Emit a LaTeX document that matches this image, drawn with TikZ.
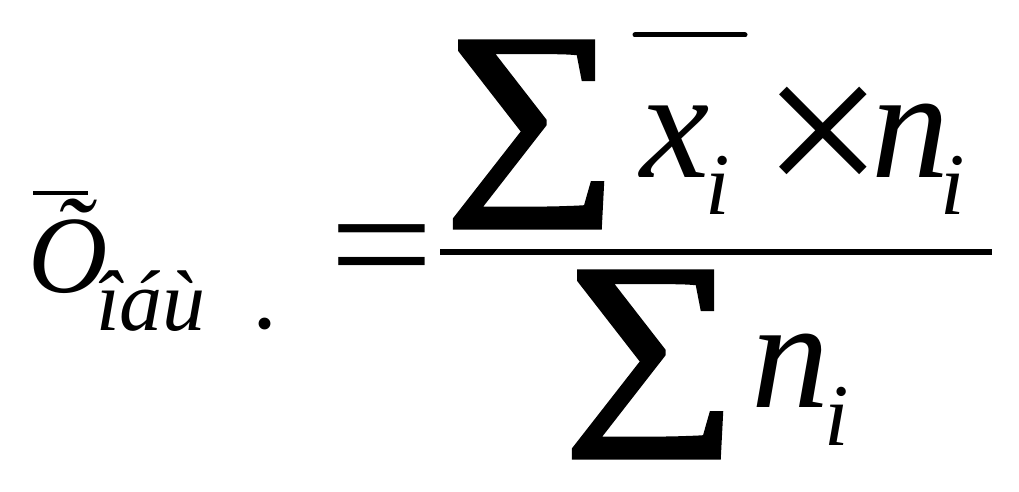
\documentclass[tikz,border=0pt]{standalone}
\usepackage{fontspec}
\setmainfont{Liberation Serif}
\newfontface\sumface[FakeBold=2.5]{Liberation Serif}
\usepackage{graphicx}
\tikzset{
  txt/.style={inner sep=0pt, outer sep=0pt},
  bigit/.style={txt, font=\fontsize{156}{160}\selectfont\itshape},
  bigup/.style={txt, font=\fontsize{156}{160}\selectfont},
  subit/.style={txt, font=\fontsize{88}{90}\selectfont\itshape},
  lsub/.style={txt, font=\fontsize{86}{90}\selectfont\itshape},
  midit/.style={txt, font=\fontsize{110}{112}\selectfont\itshape},
  dotst/.style={txt, font=\fontsize{100}{104}\selectfont},
  sumst/.style={txt, font=\fontsize{156}{160}\sumface},
  rule/.style={line width=6pt},
  vbar/.style={line width=5pt, line cap=round},
}
\begin{document}
\begin{tikzpicture}[x=1pt,y=1pt]
\useasboundingbox (0,0) rectangle (1019,491);
% left side
\node[midit, anchor=base west] (o) at (28,199) {Õ};
\draw[line width=4pt] (33,298) -- (88,298);
\node[lsub, anchor=base west] (sub) at (96,161) {îáù};
\node[dotst, anchor=base] (dot) at (265,163) {.};
\node[bigup, anchor=center] (eq) at (381.5,229) {\scalebox{1.19}[1.05]{=}};
% fraction
\draw[rule] (440,239) -- (992,239);
% numerator
\node[sumst, anchor=south west] (sumN) at (445,264) {\resizebox*{173pt}{185pt}{∑}};
\draw[vbar] (635,456) -- (745,456);
\node[bigit, anchor=base west] (xN) at (640,314) {x};
\node[subit, anchor=base west] (iN1) at (705,277) {i};
\node[bigup, anchor=center] (times) at (823.5,346) {\scalebox{1.38}{×}};
\node[bigit, anchor=base west] (nN) at (871,314) {n};
\node[subit, anchor=base west] (iN2) at (940,277) {i};
% denominator
\node[sumst, anchor=south west] (sumD) at (564,34) {\resizebox*{173pt}{185pt}{∑}};
\node[bigit, anchor=base west] (nD) at (751,84) {n};
\node[subit, anchor=base west] (iD) at (824,46) {i};
\end{tikzpicture}
\end{document}
